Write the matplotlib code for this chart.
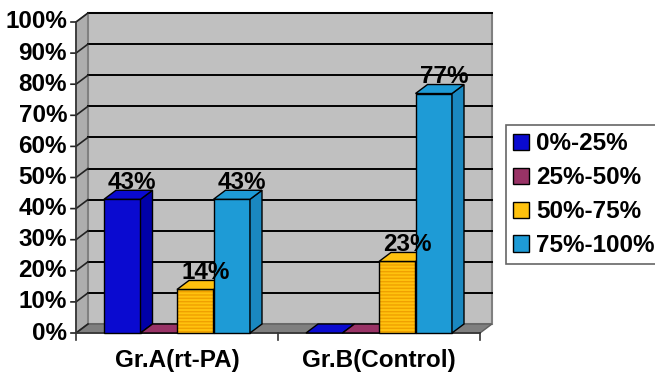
#! /usr/bin/env python

import matplotlib as mpl
mpl.use("Agg")
from matplotlib import pyplot as plt
from matplotlib.patches import Polygon, Patch

mpl.rcParams.update({
    "font.family": ["Liberation Sans", "DejaVu Sans"],
    "font.weight": "bold",
    "font.size": 17.5,
})

## Data
groups = ["Gr.A(rt-PA)", "Gr.B(Control)"]
series = ["0%-25%", "25%-50%", "50%-75%", "75%-100%"]
vals_025 = [43, 0]
vals_2550 = [0, 0]
vals_5075 = [14, 23]
vals_75100 = [43, 77]
values = [vals_025, vals_2550, vals_5075, vals_75100]
yticks = list(range(0, 101, 10))

## Styles: (front, side, hatch)
styles = [
    ("#0a0ad0", "#0000a8", None),
    ("#993366", "#7a2850", None),
    ("#ffc20e", "#e8a400", "-----"),
    ("#1e9bd6", "#1a88c0", None),
]

fig = plt.figure(figsize=(6.55, 3.72), dpi=100)
# axes covers the front plane: x 76..480 px, y 333..22 px
ax = fig.add_axes([76/655, 39/372, 404/655, 311/372])
ax.set_xlim(0, 2)
ax.set_ylim(0, 100)
ax.axis("off")

pxx = 2/404.0     # data units per pixel, x
pxy = 100/311.0   # data units per pixel, y
dx, dy = 12*pxx, 9*pxy

def poly(pts, fc, ec="black", lw=1.0, z=1, **kw):
    ax.add_patch(Polygon(pts, closed=True, facecolor=fc, edgecolor=ec,
                         linewidth=lw, zorder=z, clip_on=False, **kw))

## Walls and floor
poly([(0, 0), (dx, dy), (dx, 100+dy), (0, 100)], "#adadad", ec="#707070", z=1)
poly([(dx, dy), (2+dx, dy), (2+dx, 100+dy), (dx, 100+dy)], "#c0c0c0", ec="#808080", lw=1.5, z=1)
poly([(0, 0), (2, 0), (2+dx, dy), (dx, dy)], "#7f7f7f", ec="#606060", z=2)

for v in yticks[1:]:
    ax.plot([dx, 2+dx], [v+dy, v+dy], color="black", lw=1.4, zorder=2, clip_on=False)
for v in yticks:
    ax.plot([-5*pxx, 0, dx], [v, v, v+dy], color="#222222", lw=1.2, zorder=3, clip_on=False)
    ax.text(-9*pxx, v, "%d%%" % v, ha="right", va="center", zorder=5)
ax.plot([0, 0], [0, 100], color="#333333", lw=1.2, zorder=3, clip_on=False)
ax.plot([0, 2], [0, 0], color="#333333", lw=1.2, zorder=3, clip_on=False)
for x in (0, 1, 2):
    ax.plot([x, x], [0, -7*pxy], color="#333333", lw=1.2, zorder=3, clip_on=False)

## Bars
bw = 36.5*pxx
start = 28*pxx
z = 4
for gi, g in enumerate(groups):
    for si in range(len(series)):
        v = values[si][gi]
        fc, sc, hatch = styles[si]
        x0 = gi + start + si*bw
        x1 = x0 + bw
        if v > 0:
            if hatch:
                ax.add_patch(Polygon([(x0, 0), (x1, 0), (x1, v), (x0, v)], closed=True,
                                     facecolor=fc, edgecolor="#f0a000", linewidth=0,
                                     hatch=hatch, zorder=z, clip_on=False))
                poly([(x0, 0), (x1, 0), (x1, v), (x0, v)], "none", z=z)
            else:
                poly([(x0, 0), (x1, 0), (x1, v), (x0, v)], fc, z=z)
            poly([(x1, 0), (x1+dx, dy), (x1+dx, v+dy), (x1, v)], sc, z=z)
        poly([(x0, v), (x1, v), (x1+dx, v+dy), (x0+dx, v+dy)], fc, z=z)
        z += 1
        if v > 0:
            ax.text(x0 + bw/2 + dx/2 + 4*pxx, v + dy + 2.5, "%d%%" % v,
                    ha="center", va="center", zorder=30)
    ax.text(gi + 0.5, -27*pxy, g, ha="center", va="center")

## Legend
handles = [Patch(facecolor=styles[i][0], edgecolor="black", label=s)
           for i, s in enumerate(series)]
leg = fig.legend(handles=handles, loc="upper left",
                 bbox_to_anchor=(506/655, 1 - 125/372), frameon=True, fancybox=False,
                 handlelength=0.65, handleheight=0.65, handletextpad=0.3,
                 labelspacing=0.45, borderpad=0.3, borderaxespad=0)
leg.get_frame().set_edgecolor("#404040")
leg.get_frame().set_linewidth(1.2)

fig.savefig("out.png", dpi=100)
